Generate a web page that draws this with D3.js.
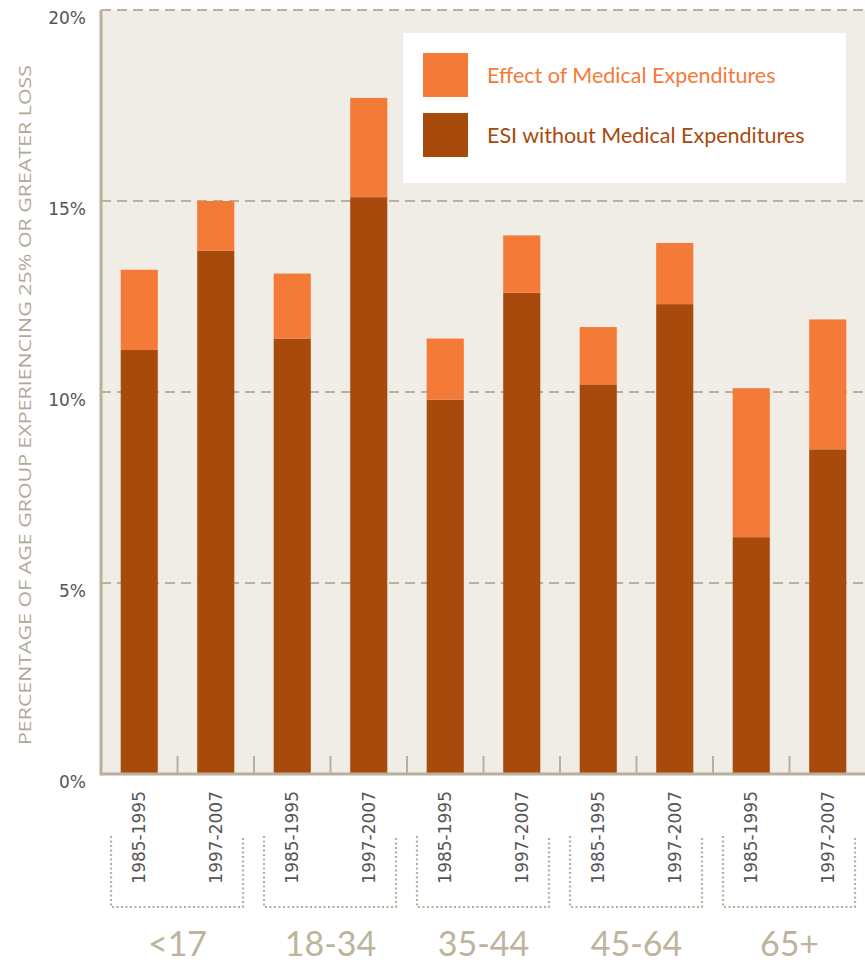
<!DOCTYPE html>
<html>
<head>
<meta charset="utf-8">
<script src="https://cdn.jsdelivr.net/npm/d3@7"></script>
<style>
  body { margin: 0; background: #fff; }
  text { font-family: "Lato", "Open Sans", sans-serif; }
</style>
</head>
<body>
<script>
// Data
var groups = ["<17", "18-34", "35-44", "45-64", "65+"];
var periods = ["1985-1995", "1997-2007"];
var esiBase = [11.1, 13.7, 11.4, 15.1, 9.8, 12.6, 10.2, 12.3, 6.2, 8.5];
var esiTotal = [13.2, 15.0, 13.1, 17.7, 11.4, 14.1, 11.7, 13.9, 10.1, 11.9];
var yTicks = [0, 5, 10, 15, 20];
var legendLabels = ["Effect of Medical Expenditures", "ESI without Medical Expenditures"];

var w = 865;
var h = 962;
var pLeft = 101, pRight = 866, pTop = 10, pBottom = 774;

var colOrange = "#f47a38";
var colDark = "#a84a0c";
var colGrid = "#b8b09a";

var bars = [];
groups.forEach(function(g, gi) {
  periods.forEach(function(p, pi) {
    var i = gi * 2 + pi;
    bars.push({ key: g + "|" + p, group: g, period: p, base: esiBase[i], total: esiTotal[i] });
  });
});

var svg = d3.select("body")
  .append("svg")
  .attr("width", w)
  .attr("height", h);

var x = d3.scaleBand()
  .domain(bars.map(function(d) { return d.key; }))
  .range([pLeft, pRight])
  .paddingInner(0.515)
  .paddingOuter(0.2575);

var xGroup = d3.scaleBand()
  .domain(groups)
  .range([pLeft, pRight]);

var y = d3.scaleLinear()
  .domain([0, 20])
  .range([pBottom, pTop]);

/*
----Plot background----
*/
svg.append("rect")
  .attr("x", pLeft)
  .attr("y", pTop)
  .attr("width", pRight - pLeft)
  .attr("height", pBottom - pTop)
  .attr("fill", "#f0ede6");

// gridlines
svg.selectAll(".grid")
  .data(yTicks.filter(function(d) { return d > 0; }))
  .enter()
  .append("line")
  .attr("class", "grid")
  .attr("x1", pLeft)
  .attr("x2", pRight)
  .attr("y1", function(d) { return y(d); })
  .attr("y2", function(d) { return y(d); })
  .attr("stroke", colGrid)
  .attr("stroke-width", 2)
  .attr("stroke-dasharray", "10,6");

/*
----Bars----
*/
svg.selectAll(".base")
  .data(bars)
  .enter()
  .append("rect")
  .attr("class", "base")
  .attr("x", function(d) { return x(d.key); })
  .attr("width", x.bandwidth())
  .attr("y", function(d) { return y(d.base); })
  .attr("height", function(d) { return y(0) - y(d.base); })
  .attr("fill", colDark);

svg.selectAll(".effect")
  .data(bars)
  .enter()
  .append("rect")
  .attr("class", "effect")
  .attr("x", function(d) { return x(d.key); })
  .attr("width", x.bandwidth())
  .attr("y", function(d) { return y(d.total); })
  .attr("height", function(d) { return y(d.base) - y(d.total); })
  .attr("fill", colOrange);

/*
----Axes----
*/
var step = x.step();
// small ticks between bars
svg.selectAll(".sep")
  .data(bars.slice(1))
  .enter()
  .append("line")
  .attr("class", "sep")
  .attr("x1", function(d) { return x(d.key) - (step - x.bandwidth()) / 2; })
  .attr("x2", function(d) { return x(d.key) - (step - x.bandwidth()) / 2; })
  .attr("y1", pBottom - 18)
  .attr("y2", pBottom)
  .attr("stroke", colGrid)
  .attr("stroke-width", 2);

svg.append("line")
  .attr("x1", pLeft).attr("x2", pLeft)
  .attr("y1", pTop).attr("y2", pBottom + 1.5)
  .attr("stroke", colGrid)
  .attr("stroke-width", 3);

svg.append("line")
  .attr("x1", pLeft).attr("x2", pRight)
  .attr("y1", pBottom).attr("y2", pBottom)
  .attr("stroke", colGrid)
  .attr("stroke-width", 3);

var yAxis = svg.append("g")
  .attr("transform", "translate(" + (pLeft - 12) + ",0)")
  .call(d3.axisLeft(y).tickValues(yTicks).tickSize(0).tickFormat(function(d) { return d + "%"; }));
yAxis.select(".domain").remove();
yAxis.selectAll("text")
  .attr("fill", "#555")
  .attr("dy", "0.8em")
  .style("font-size", "17px")
  .style("font-family", "'DejaVu Sans', sans-serif");

svg.append("text")
  .attr("transform", "translate(31," + ((65 + 745) / 2) + ") rotate(-90)")
  .attr("text-anchor", "middle")
  .attr("fill", "#b0a898")
  .attr("textLength", 680)
  .attr("lengthAdjust", "spacingAndGlyphs")
  .style("font-size", "16px")
  .style("font-family", "'Open Sans', sans-serif")
  .text("PERCENTAGE OF AGE GROUP EXPERIENCING 25% OR GREATER LOSS");

// period labels
svg.selectAll(".period")
  .data(bars)
  .enter()
  .append("text")
  .attr("class", "period")
  .attr("transform", function(d) {
    return "translate(" + (x(d.key) + x.bandwidth() / 2 + 6) + "," + (pBottom + 17) + ") rotate(-90)";
  })
  .attr("text-anchor", "end")
  .attr("fill", "#555")
  .style("font-size", "17px")
  .style("font-family", "'DejaVu Sans', sans-serif")
  .text(function(d) { return d.period; });

// group brackets
svg.selectAll(".bracket")
  .data(groups)
  .enter()
  .append("path")
  .attr("class", "bracket")
  .attr("d", function(g) {
    var x0 = xGroup(g) + 10, x1 = xGroup(g) + xGroup.bandwidth() - 11;
    return "M" + x0 + ",836V907H" + x1 + "V836";
  })
  .attr("fill", "none")
  .attr("stroke", colGrid)
  .attr("stroke-width", 2.2)
  .attr("stroke-dasharray", "2,2.5");

svg.selectAll(".group")
  .data(groups)
  .enter()
  .append("text")
  .attr("class", "group")
  .attr("x", function(g) { return xGroup(g) + xGroup.bandwidth() / 2; })
  .attr("y", 956)
  .attr("text-anchor", "middle")
  .attr("fill", "#bdb49c")
  .style("font-size", "34px")
  .text(function(g) { return g; });

/*
----Legend----
*/
svg.append("rect")
  .attr("x", 403).attr("y", 33)
  .attr("width", 443).attr("height", 150)
  .attr("fill", "#fff");

var legend = svg.selectAll(".legend")
  .data(legendLabels)
  .enter()
  .append("g")
  .attr("class", "legend")
  .attr("transform", function(d, i) { return "translate(423," + (53 + i * 60) + ")"; });

legend.append("rect")
  .attr("width", 45)
  .attr("height", 44)
  .attr("fill", function(d, i) { return i === 0 ? colOrange : colDark; });

legend.append("text")
  .attr("x", 64)
  .attr("y", 22)
  .attr("dy", "0.35em")
  .attr("fill", function(d, i) { return i === 0 ? colOrange : colDark; })
  .style("font-size", "21.5px")
  .text(function(d) { return d; });
</script>
</body>
</html>
